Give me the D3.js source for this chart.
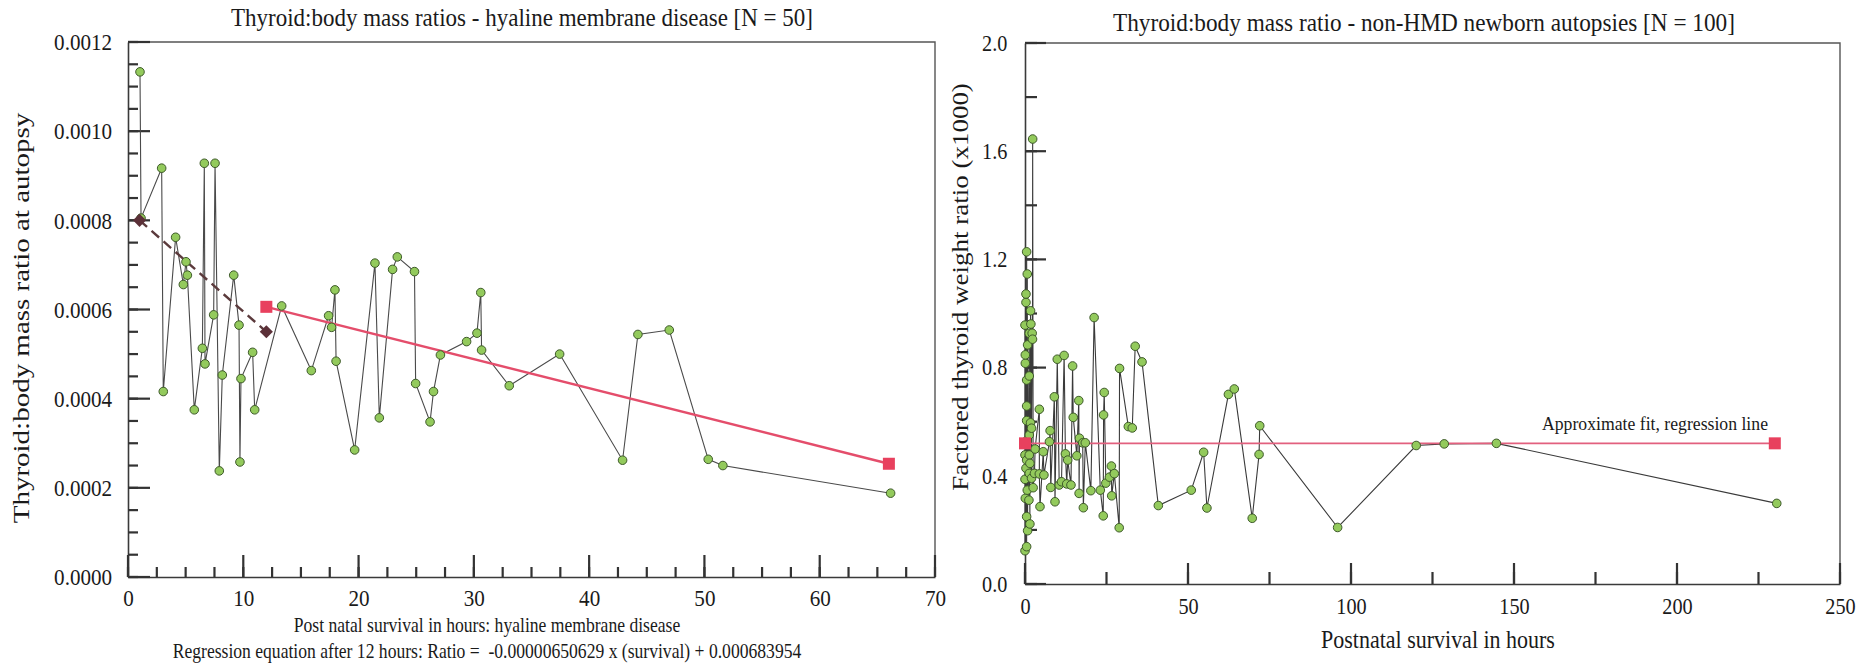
<!DOCTYPE html>
<html><head><meta charset="utf-8">
<script src="https://cdn.jsdelivr.net/npm/d3@7/dist/d3.min.js"></script>
<style>
html,body{margin:0;padding:0;background:#fff;}
svg text{font-family:"Liberation Serif","Times New Roman",serif;fill:#1a1a1a;}
</style></head>
<body>
<svg id="chart" width="1874" height="671"></svg>
<script>
// ---------- DATA ----------
// Left panel: hyaline membrane disease (N = 50)
const hmdHours = [1.04,1.13,2.92,3.06,4.13,4.8,5.03,5.15,5.75,6.45,6.62,6.68,7.43,7.55,7.92,8.18,9.17,9.63,9.71,9.8,
  10.81,10.99,13.33,15.9,17.4,17.66,17.95,18.05,19.66,21.42,21.8,22.95,23.36,24.85,24.95,26.2,26.5,27.1,29.37,30.27,
  30.6,30.67,33.07,37.44,42.9,44.23,46.95,50.33,51.6,66.15];
const hmdRatio = [0.001133,0.000805,0.000917,0.000416,0.000762,0.000656,0.000707,0.000677,0.000375,0.000513,0.000928,0.000478,
  0.000588,0.000928,0.000238,0.000453,0.000677,0.000565,0.000258,0.000445,0.000504,0.000375,0.000608,0.000463,0.000586,
  0.00056,0.000644,0.000484,0.000285,0.000704,0.000357,0.00069,0.000718,0.000685,0.000434,0.000348,0.000416,0.000498,
  0.000528,0.000547,0.000638,0.000509,0.000429,0.0005,0.000262,0.000544,0.000554,0.000264,0.00025,0.000188];
const hmdFitHours = [12, 66];            // regression after 12 hours
const hmdFitRatio = [0.000606, 0.000254];
const hmdEarlyHours = [1, 12];           // dashed early segment
const hmdEarlyRatio = [0.0008, 0.00055];
const hmdXTicks = [0,10,20,30,40,50,60,70];
const hmdYTicks = [0,0.0002,0.0004,0.0006,0.0008,0.0010,0.0012];

// Right panel: non-HMD newborn autopsies (N = 100)
const nonHours = [0,0,0,0,0.1,0.1,0.1,0.3,0.3,0.3,0.5,0.5,0.5,0.5,0.5,0.5,0.5,0.7,0.7,0.7,0.8,0.8,1.2,1.3,1.3,1.3,1.3,1.3,
  1.5,1.5,1.7,1.7,1.8,2.0,2.0,2.2,2.3,2.35,2.5,2.9,
  3.1,4.4,4.4,4.6,5.6,5.8,7.5,7.7,7.9,9.0,9.2,9.9,10.5,11.2,12.0,12.4,12.8,13.1,14.1,14.6,14.8,15.9,16.5,16.6,16.7,17.7,17.9,18.5,
  20.2,21.2,23.1,24.0,24.1,24.3,24.8,25.9,26.5,26.6,27.4,28.9,29.0,31.7,32.9,33.8,35.9,40.9,
  51.0,54.8,55.8,62.4,64.2,69.7,71.8,72.0,95.9,120,128.6,144.6,230.6];
const nonRatio = [0.123,0.387,0.477,0.957,0.317,0.816,0.847,0.428,1.041,1.072,0.138,0.249,0.458,0.604,0.658,0.754,1.228,0.347,0.532,1.146,
  0.197,0.884,0.31,0.409,0.477,0.551,0.769,0.927,0.222,0.446,0.596,1.01,0.961,0.391,0.576,0.927,0.905,1.645,0.356,0.409,
  0.499,0.646,0.407,0.286,0.489,0.403,0.526,0.567,0.357,0.692,0.304,0.831,0.366,0.378,0.845,0.481,0.37,0.458,0.366,0.806,0.616,
  0.474,0.678,0.335,0.539,0.522,0.282,0.522,
  0.345,0.985,0.347,0.252,0.625,0.708,0.373,0.395,0.436,0.326,0.408,0.208,0.797,0.582,0.577,0.879,0.821,0.29,
  0.347,0.487,0.281,0.701,0.721,0.243,0.479,0.585,0.209,0.512,0.518,0.52,0.298];
const nonFitHours = [0, 230];
const nonFitRatio = [0.52, 0.52];
const nonXTicks = [0,50,100,150,200,250];
const nonYTicks = [0,0.4,0.8,1.2,1.6,2.0];

// ---------- DRAW ----------
const svg = d3.select("#chart");
const SX = 0.88; // horizontal condensing of glyphs seen in the reference

function condense(sel){ sel.attr("transform", `scale(${SX},1)`); }

function panel(o){
  const g = svg.append("g");
  const x = d3.scaleLinear().domain(o.xDomain).range([o.left, o.right]);
  const y = d3.scaleLinear().domain(o.yDomain).range([o.bottom, o.top]);

  // frame (top + right)
  g.append("path").attr("fill","none").attr("stroke","#555").attr("stroke-width",1.4)
    .attr("d", `M${x(o.xDomain[0])},${y(o.yDomain[1])}H${x(o.xDomain[1])}V${y(o.yDomain[0])}`);

  // axes (labels + baseline) via d3-axis
  const yAx = g.append("g").attr("transform",`translate(${o.left},0)`)
    .call(d3.axisLeft(y).tickValues(o.yTicks).tickSizeInner(0).tickSizeOuter(0).tickPadding(o.yPad).tickFormat(d3.format(o.yFmt)));
  const xAx = g.append("g").attr("transform",`translate(0,${o.bottom})`)
    .call(d3.axisBottom(x).tickValues(o.xTicks).tickSizeInner(0).tickSizeOuter(0).tickPadding(o.xPad).tickFormat(d3.format("d")));
  [yAx,xAx].forEach(a=>{
    a.selectAll(".tick line").remove();
    a.select(".domain").attr("stroke","#3a3a3a").attr("stroke-width",1.6);
    a.selectAll("text").attr("font-family","Liberation Serif").attr("font-size",o.tickFont).attr("fill","#1a1a1a").call(condense);
  });

  // inward tick marks, positioned with the scales (drawn as thin rects)
  const addTicks = (vals, len, vertical) => g.append("g").selectAll("rect").data(vals).join("rect")
    .attr("fill","#333")
    .attr("x", v => vertical ? o.left : x(v) - 1.1)
    .attr("y", v => vertical ? y(v) - 1.1 : o.bottom - len)
    .attr("width", vertical ? len : 2.2)
    .attr("height", vertical ? 2.2 : len);
  addTicks(o.yMinor, o.minorLen, true);
  addTicks(o.xMinor, o.minorLen, false);
  addTicks(o.yTicks, o.majorLen, true);
  addTicks(o.xTicks, o.majorLen, false);
  return {g,x,y};
}

// ----- Left panel -----
const L = panel({left:128,right:935,top:42,bottom:577,xDomain:[0,70],yDomain:[0,0.0012],
  xTicks:hmdXTicks,yTicks:hmdYTicks,xMinor:d3.range(0,70.01,2.5),yMinor:d3.range(0,0.00121,0.00005),
  majorLen:22,minorLen:10,yPad:18,xPad:12,yFmt:".4f",tickFont:24});

const lineL = d3.line().x(d=>L.x(d[0])).y(d=>L.y(d[1]));
const hmdPts = hmdHours.map((h,i)=>[h,hmdRatio[i]]);
L.g.append("path").datum(hmdPts).attr("fill","none").attr("stroke","#4a4a4a").attr("stroke-width",1.1).attr("d", lineL);
// early dashed fit
L.g.append("path").datum(hmdEarlyHours.map((h,i)=>[h,hmdEarlyRatio[i]])).attr("fill","none")
  .attr("stroke","#5b3a3c").attr("stroke-width",2.4).attr("stroke-dasharray","10,6").attr("d", lineL);
// regression
L.g.append("path").datum(hmdFitHours.map((h,i)=>[h,hmdFitRatio[i]])).attr("fill","none")
  .attr("stroke","#e44d6b").attr("stroke-width",2.4).attr("d", lineL);
L.g.selectAll("circle.pt").data(hmdPts).join("circle").attr("class","pt")
  .attr("cx",d=>L.x(d[0])).attr("cy",d=>L.y(d[1])).attr("r",4.3)
  .attr("fill","#93ca5c").attr("stroke","#3e5a2a").attr("stroke-width",1);
L.g.selectAll("path.dia").data(hmdEarlyHours.map((h,i)=>[h,hmdEarlyRatio[i]])).join("path").attr("class","dia")
  .attr("d", d3.symbol(d3.symbolDiamond2, 110)).attr("fill","#5b3038")
  .attr("transform",d=>`translate(${L.x(d[0])},${L.y(d[1])})`);
L.g.selectAll("rect.sq").data(hmdFitHours.map((h,i)=>[h,hmdFitRatio[i]])).join("rect").attr("class","sq")
  .attr("x",d=>L.x(d[0])-6).attr("y",d=>L.y(d[1])-6).attr("width",12).attr("height",12).attr("fill","#e8405e");

// left texts
svg.append("text").attr("x",522).attr("y",26).attr("text-anchor","middle").attr("font-size",25)
  .attr("textLength",582).attr("lengthAdjust","spacingAndGlyphs")
  .text("Thyroid:body mass ratios - hyaline membrane disease [N = 50]");
svg.append("text").attr("transform","translate(29,318) rotate(-90) scale(1,0.8)").attr("text-anchor","middle").attr("font-size",29)
  .text("Thyroid:body mass ratio at autopsy");
svg.append("text").attr("x",487).attr("y",632).attr("text-anchor","middle").attr("font-size",20)
  .attr("transform",`translate(${487*(1-SX)},0) scale(${SX},1)`)
  .text("Post natal survival in hours: hyaline membrane disease");
svg.append("text").attr("x",487).attr("y",658).attr("text-anchor","middle").attr("font-size",20)
  .attr("transform",`translate(${487*(1-SX)},0) scale(${SX},1)`)
  .attr("xml:space","preserve")
  .text("Regression equation after 12 hours: Ratio =  -0.00000650629 x (survival) + 0.000683954");

// ----- Right panel -----
const R = panel({left:1025,right:1840,top:43,bottom:584,xDomain:[0,250],yDomain:[0,2.0],
  xTicks:nonXTicks,yTicks:nonYTicks,xMinor:d3.range(0,250.1,25),yMinor:d3.range(0,2.01,0.2),
  majorLen:21,minorLen:12,yPad:20,xPad:14,yFmt:".1f",tickFont:23});

const lineR = d3.line().x(d=>R.x(d[0])).y(d=>R.y(d[1]));
const nonPts = nonHours.map((h,i)=>[h,nonRatio[i]]);
R.g.append("path").datum(nonPts).attr("fill","none").attr("stroke","#3a3a3a").attr("stroke-width",1.1).attr("d", lineR);
R.g.append("path").datum(nonFitHours.map((h,i)=>[h,nonFitRatio[i]])).attr("fill","none")
  .attr("stroke","#e2607e").attr("stroke-width",1.6).attr("d", lineR);
R.g.selectAll("circle.pt").data(nonPts).join("circle").attr("class","pt")
  .attr("cx",d=>R.x(d[0])).attr("cy",d=>R.y(d[1])).attr("r",4.3)
  .attr("fill","#93ca5c").attr("stroke","#3e5a2a").attr("stroke-width",1);
R.g.selectAll("rect.sq").data(nonFitHours.map((h,i)=>[h,nonFitRatio[i]])).join("rect").attr("class","sq")
  .attr("x",d=>R.x(d[0])-6).attr("y",d=>R.y(d[1])-6).attr("width",12).attr("height",12).attr("fill","#e8405e");

svg.append("text").attr("x",1424).attr("y",31).attr("text-anchor","middle").attr("font-size",25)
  .attr("textLength",622).attr("lengthAdjust","spacingAndGlyphs")
  .text("Thyroid:body mass ratio - non-HMD newborn autopsies [N = 100]");
svg.append("text").attr("transform","translate(968,287) rotate(-90) scale(1,0.85)").attr("text-anchor","middle").attr("font-size",27)
  .text("Factored thyroid weight ratio (x1000)");
svg.append("text").attr("x",1438).attr("y",648).attr("text-anchor","middle").attr("font-size",25)
  .attr("transform",`translate(${1438*(1-SX)},0) scale(${SX},1)`)
  .text("Postnatal survival in hours");
svg.append("text").attr("x",1542).attr("y",430).attr("font-size",18)
  .attr("textLength",226).attr("lengthAdjust","spacingAndGlyphs")
  .text("Approximate fit, regression line");
</script>
</body></html>
